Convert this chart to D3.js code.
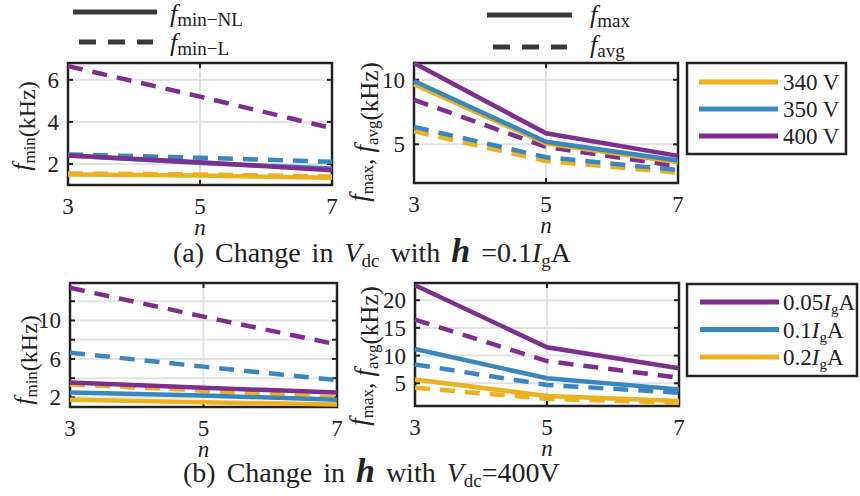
<!DOCTYPE html>
<html>
<head>
<meta charset="utf-8">
<script src="https://cdn.jsdelivr.net/npm/d3@7"></script>
<style>
  body { margin: 0; background: #fff; }
  svg text { font-family: "Liberation Serif", "DejaVu Serif", serif; fill: #222; }
</style>
</head>
<body>
<svg id="chart" width="860" height="496"></svg>
<script>
// x values (number of levels n)
var nVals = [3, 5, 7];

// (a) change in Vdc, f_min
var fminNL_340 = [1.5, 1.45, 1.35];
var fminNL_350 = [2.4, 2.05, 1.78];
var fminNL_400 = [2.4, 2.08, 1.7];
var fminL_340 = [1.55, 1.5, 1.4];
var fminL_350 = [2.45, 2.3, 2.1];
var fminL_400 = [6.65, 5.2, 3.7];

// (a) f_max / f_avg
var fmax_340 = [9.65, 5.05, 3.6];
var fmax_350 = [9.9, 5.2, 3.75];
var fmax_400 = [11.3, 5.85, 4.1];
var favg_340 = [6.0, 3.7, 2.8];
var favg_350 = [6.35, 4.0, 3.0];
var favg_400 = [8.45, 4.8, 3.3];

// (b) change in h, f_min
var fminNL_005 = [3.55, 3.0, 2.5];
var fminNL_01 = [2.5, 2.2, 1.75];
var fminNL_02 = [1.75, 1.5, 1.25];
var fminL_005 = [13.4, 10.4, 7.5];
var fminL_01 = [6.65, 5.2, 3.8];
var fminL_02 = [3.35, 2.7, 2.0];

// (b) f_max / f_avg
var fmax_005 = [22.7, 11.5, 7.7];
var fmax_01 = [11.2, 5.9, 3.9];
var fmax_02 = [5.7, 2.7, 1.8];
var favg_005 = [16.5, 9.0, 6.0];
var favg_01 = [8.4, 4.7, 3.3];
var favg_02 = [4.2, 2.2, 1.5];

var yellow = "#EDB120", blue = "#3A87C0", purple = "#7E2F8E";

var svg = d3.select("#chart");

function panel(opt) {
  var x = d3.scaleLinear().domain([3, 7]).range([opt.x0, opt.x1]);
  var y = d3.scaleLinear().domain(opt.ydom).range([opt.y1, opt.y0]);
  var g = svg.append("g");

  // grid
  g.selectAll(".gy").data(opt.grid).enter().append("line")
    .attr("x1", opt.x0).attr("x2", opt.x1)
    .attr("y1", function(d) { return y(d); }).attr("y2", function(d) { return y(d); })
    .attr("stroke", "#e2e2e2").attr("stroke-width", 2);
  g.append("line").attr("x1", x(5)).attr("x2", x(5)).attr("y1", opt.y0).attr("y2", opt.y1)
    .attr("stroke", "#e2e2e2").attr("stroke-width", 2);

  // tick marks, inward
  opt.grid.forEach(function(v) {
    g.append("line").attr("x1", opt.x0).attr("x2", opt.x0 + 5).attr("y1", y(v)).attr("y2", y(v))
      .attr("stroke", "#222").attr("stroke-width", 2);
    g.append("line").attr("x1", opt.x1).attr("x2", opt.x1 - 5).attr("y1", y(v)).attr("y2", y(v))
      .attr("stroke", "#222").attr("stroke-width", 2);
  });
  g.append("line").attr("x1", x(5)).attr("x2", x(5)).attr("y1", opt.y0).attr("y2", opt.y0 + 5)
    .attr("stroke", "#222").attr("stroke-width", 2);
  g.append("line").attr("x1", x(5)).attr("x2", x(5)).attr("y1", opt.y1).attr("y2", opt.y1 - 5)
    .attr("stroke", "#222").attr("stroke-width", 2);

  // box
  g.append("rect").attr("x", opt.x0).attr("y", opt.y0)
    .attr("width", opt.x1 - opt.x0).attr("height", opt.y1 - opt.y0)
    .attr("fill", "none").attr("stroke", "#222").attr("stroke-width", 2.5);

  // series
  var line = d3.line().x(function(d, i) { return x(nVals[i]); }).y(function(d) { return y(d); });
  opt.series.forEach(function(s) {
    g.append("path").datum(s.v).attr("d", line)
      .attr("fill", "none").attr("stroke", s.c).attr("stroke-width", 4.5)
      .attr("stroke-dasharray", s.dash ? "15,10" : null);
  });

  // tick labels
  opt.labels.forEach(function(v) {
    g.append("text").attr("x", opt.x0 - 9).attr("y", y(v) + 8)
      .attr("text-anchor", "end").attr("font-size", 23).text(v);
  });
  nVals.forEach(function(v) {
    g.append("text").attr("x", x(v)).attr("y", opt.y1 + 29)
      .attr("text-anchor", "middle").attr("font-size", 23).text(v);
  });
  g.append("text").attr("x", x(5)).attr("y", opt.y1 + 50)
    .attr("text-anchor", "middle").attr("font-size", 23).attr("font-style", "italic").text("n");

  // y label
  var yl = g.append("text").attr("font-size", opt.lfs)
    .attr("transform", "translate(" + opt.lx + "," + opt.ly + ") rotate(-90)")
    .attr("text-anchor", "middle");
  opt.ylab(yl);
}

function fsub(t, sub, big) {
  t.append("tspan").attr("font-style", "italic").attr("font-size", big).text("f");
  t.append("tspan").attr("font-size", 17).attr("dy", 5).text(sub);
  t.append("tspan").attr("dy", -5).text("");
}

function fminLab(t) {
  fsub(t, "min", 26);
  t.append("tspan").text("(kHz)");
}
function fmaxLab(t) {
  fsub(t, "max", 27);
  t.append("tspan").text(", ");
  fsub(t, "avg", 27);
  t.append("tspan").text("(kHz)");
}

panel({x0: 68, x1: 332, y0: 63, y1: 185, ydom: [1, 6.8], grid: [2, 4, 6], labels: [2, 4, 6],
  lx: 30, ly: 126, lfs: 24, ylab: fminLab,
  series: [
    {v: fminL_340, c: yellow, dash: true}, {v: fminL_350, c: blue, dash: true}, {v: fminL_400, c: purple, dash: true},
    {v: fminNL_340, c: yellow}, {v: fminNL_350, c: blue}, {v: fminNL_400, c: purple}
  ]});

panel({x0: 414, x1: 678, y0: 63, y1: 183, ydom: [2, 11.3], grid: [5, 10], labels: [5, 10],
  lx: 368, ly: 132, lfs: 25, ylab: fmaxLab,
  series: [
    {v: favg_340, c: yellow, dash: true}, {v: favg_350, c: blue, dash: true}, {v: favg_400, c: purple, dash: true},
    {v: fmax_340, c: yellow}, {v: fmax_350, c: blue}, {v: fmax_400, c: purple}
  ]});

panel({x0: 70, x1: 337, y0: 283, y1: 407, ydom: [1, 13.9], grid: [2, 4, 6, 8, 10, 12], labels: [2, 6, 10],
  lx: 32, ly: 360, lfs: 24, ylab: fminLab,
  series: [
    {v: fminL_005, c: purple, dash: true}, {v: fminL_01, c: blue, dash: true}, {v: fminL_02, c: yellow, dash: true},
    {v: fminNL_005, c: purple}, {v: fminNL_01, c: blue}, {v: fminNL_02, c: yellow}
  ]});

panel({x0: 415, x1: 679, y0: 283, y1: 406, ydom: [0.9, 23.1], grid: [5, 10, 15, 20], labels: [5, 10, 15, 20],
  lx: 368, ly: 356, lfs: 25, ylab: fmaxLab,
  series: [
    {v: favg_005, c: purple, dash: true}, {v: favg_01, c: blue, dash: true}, {v: favg_02, c: yellow, dash: true},
    {v: fmax_005, c: purple}, {v: fmax_01, c: blue}, {v: fmax_02, c: yellow}
  ]});

// line-style legends at top
function styleLegend(x0, x1, yy, dash, tx, ty, sub) {
  svg.append("line").attr("x1", x0).attr("x2", x1).attr("y1", yy).attr("y2", yy)
    .attr("stroke", "#3a3a3a").attr("stroke-width", 5).attr("stroke-dasharray", dash ? "17,12" : null);
  var t = svg.append("text").attr("x", tx).attr("y", ty).attr("font-size", 26);
  t.append("tspan").attr("font-style", "italic").text("f");
  t.append("tspan").attr("font-size", 19).attr("dy", 4).text(sub);
}
styleLegend(73, 157, 12, false, 170, 22, "min\u2212NL");
styleLegend(79, 153, 42, true, 170, 51, "min\u2212L");
styleLegend(487, 572, 15, false, 590, 23, "max");
styleLegend(493, 567, 47, true, 590, 53, "avg");

// colour legends
var legA = ["340 V", "350 V", "400 V"];
var legAc = [yellow, blue, purple];
var legB = ["0.05", "0.1", "0.2"];
var legBc = [purple, blue, yellow];

svg.append("rect").attr("x", 687).attr("y", 63).attr("width", 159).attr("height", 91)
  .attr("fill", "none").attr("stroke", "#222").attr("stroke-width", 2.5);
legA.forEach(function(d, i) {
  var yy = 82 + i * 27;
  svg.append("line").attr("x1", 699).attr("x2", 778).attr("y1", yy).attr("y2", yy)
    .attr("stroke", legAc[i]).attr("stroke-width", 5);
  svg.append("text").attr("x", 783).attr("y", yy + 8).attr("font-size", 23).text(d);
});

svg.append("rect").attr("x", 687).attr("y", 284).attr("width", 170).attr("height", 92)
  .attr("fill", "none").attr("stroke", "#222").attr("stroke-width", 2.5);
legB.forEach(function(d, i) {
  var yy = 302 + i * 27.5;
  svg.append("line").attr("x1", 700).attr("x2", 779).attr("y1", yy).attr("y2", yy)
    .attr("stroke", legBc[i]).attr("stroke-width", 5);
  var t = svg.append("text").attr("x", 783).attr("y", yy + 8).attr("font-size", 23);
  t.append("tspan").text(d);
  t.append("tspan").attr("font-style", "italic").text("I");
  t.append("tspan").attr("font-size", 15).attr("dy", 4).text("g");
  t.append("tspan").attr("dy", -4).text("A");
});

// captions
var ca = svg.append("text").attr("x", 173).attr("y", 262).attr("font-size", 28)
  .attr("word-spacing", 4);
ca.append("tspan").text("(a) Change in ");
ca.append("tspan").attr("font-style", "italic").text("V");
ca.append("tspan").attr("font-size", 19).attr("dy", 5).text("dc");
ca.append("tspan").attr("dy", -5).text(" with ");
ca.append("tspan").attr("font-style", "italic").attr("font-weight", "bold").attr("font-size", 34).text("h");
ca.append("tspan").text(" =0.1");
ca.append("tspan").attr("font-style", "italic").text("I");
ca.append("tspan").attr("font-size", 19).attr("dy", 5).text("g");
ca.append("tspan").attr("dy", -5).text("A");

var cb = svg.append("text").attr("x", 183).attr("y", 482).attr("font-size", 28)
  .attr("word-spacing", 4);
cb.append("tspan").text("(b) Change in ");
cb.append("tspan").attr("font-style", "italic").attr("font-weight", "bold").attr("font-size", 34).text("h");
cb.append("tspan").text("  with ");
cb.append("tspan").attr("font-style", "italic").text("V");
cb.append("tspan").attr("font-size", 19).attr("dy", 5).text("dc");
cb.append("tspan").attr("dy", -5).text("=400V");
</script>
</body>
</html>
